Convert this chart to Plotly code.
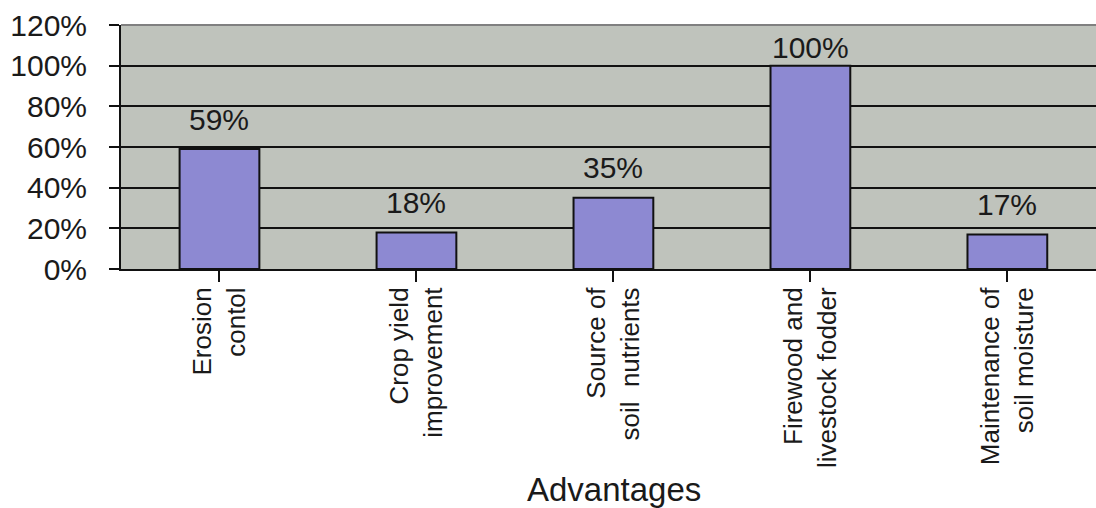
import plotly.graph_objects as go

categories = [
    "Erosion<br>contol",
    "Crop yield<br>improvement",
    "Source of<br>soil\u00a0 nutrients",
    "Firewood and<br>livestock fodder",
    "Maintenance of<br>soil moisture",
]
values = [59, 18, 35, 100, 17]
value_labels = ["59%", "18%", "35%", "100%", "17%"]
y_ticks = [0, 20, 40, 60, 80, 100, 120]
y_tick_labels = ["0%", "20%", "40%", "60%", "80%", "100%", "120%"]
x_title = "Advantages"

FONT = "Liberation Sans, Arial, sans-serif"
W, H = 1096, 508
ML, MT, MB = 121, 25, 239
plot_h = H - MT - MB
y_max = 120
px_per_unit = plot_h / y_max

fig = go.Figure()
fig.add_trace(go.Bar(
    x=list(range(len(categories))),
    y=values,
    marker=dict(color="#8d89d2", line=dict(color="#111111", width=2)),
    width=0.405,
    hoverinfo="skip",
))

for i, (v, lab) in enumerate(zip(values, value_labels)):
    shift = min(30, (y_max - v) * px_per_unit - 22)
    fig.add_annotation(x=i, y=v, text=lab, showarrow=False, yanchor="middle",
                       yshift=shift, font=dict(family=FONT, size=30, color="#1a1a1a"))

fig.add_annotation(x=0.506, y=-0.905, xref="paper", yref="paper", text=x_title,
                   showarrow=False, yanchor="middle",
                   font=dict(family=FONT, size=33, color="#1a1a1a"))

# top frame line of the plot area
fig.add_shape(type="line", xref="paper", yref="paper", x0=0, x1=1, y0=1, y1=1,
              line=dict(color="#808080", width=2))

fig.update_layout(
    width=W, height=H,
    margin=dict(l=ML, r=0, t=MT, b=MB, autoexpand=False),
    paper_bgcolor="white",
    plot_bgcolor="#bfc3bc",
    showlegend=False,
    font=dict(family=FONT, color="#1a1a1a"),
    xaxis=dict(
        range=[-0.5, 4.45],
        tickmode="array",
        tickvals=list(range(len(categories))),
        ticktext=categories,
        tickangle=-90,
        tickson="boundaries",
        ticks="outside", ticklen=11, tickwidth=2, tickcolor="#111111",
        showline=True, linecolor="#111111", linewidth=2,
        showgrid=False, zeroline=False,
        tickfont=dict(family=FONT, size=26, color="#1a1a1a"),
        ticklabelstandoff=-5,
    ),
    yaxis=dict(
        range=[0, y_max],
        tickmode="array",
        tickvals=y_ticks,
        ticktext=y_tick_labels,
        ticks="outside", ticklen=10, tickwidth=2, tickcolor="#111111",
        showline=True, linecolor="#111111", linewidth=2,
        showgrid=True, gridcolor="#111111", gridwidth=2,
        zeroline=False,
        tickfont=dict(family=FONT, size=30, color="#1a1a1a"),
        ticklabelstandoff=16,
    ),
)

fig.write_html("out.html")
